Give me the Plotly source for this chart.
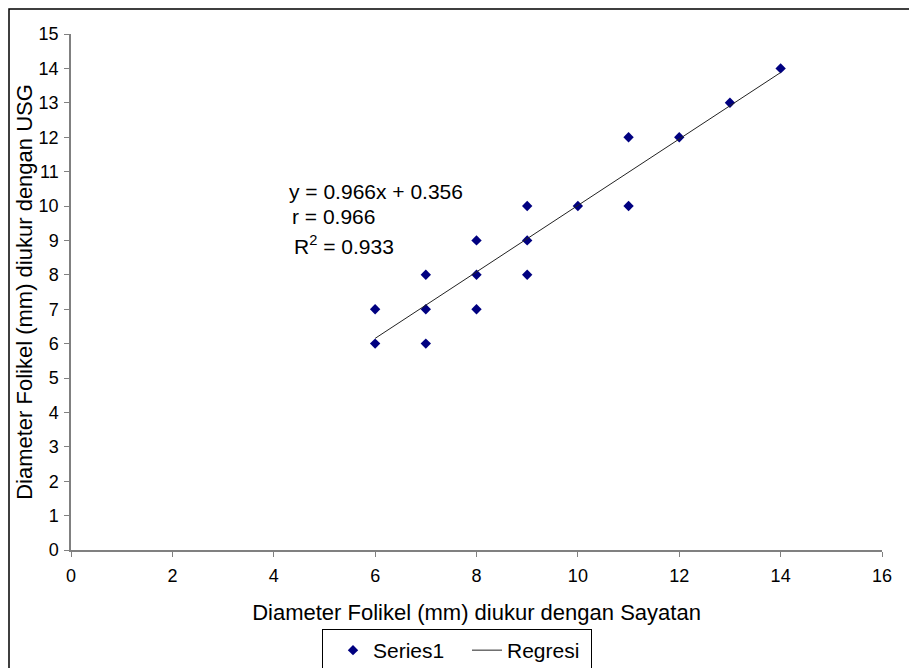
import plotly.graph_objects as go

x_sayatan = [6, 6, 7, 7, 7, 8, 8, 8, 9, 9, 9, 10, 11, 11, 12, 13, 14]
y_usg = [6, 7, 8, 7, 6, 9, 8, 7, 10, 9, 8, 10, 12, 10, 12, 13, 14]
slope = 0.966
intercept = 0.356
r_value = 0.966
r2_value = 0.933
x_ticks = [0, 2, 4, 6, 8, 10, 12, 14, 16]
y_ticks = list(range(0, 16))

x_line = [min(x_sayatan), max(x_sayatan)]
y_line = [slope * v + intercept for v in x_line]

FONT = "Liberation Sans, Arial, sans-serif"

fig = go.Figure()
fig.add_trace(go.Scatter(
    x=x_sayatan, y=y_usg, mode="markers", name="Series1",
    marker=dict(symbol="diamond", color="#000080", size=8, line=dict(width=0)),
))
fig.add_trace(go.Scatter(
    x=x_line, y=y_line, mode="lines", name="Regresi",
    line=dict(color="#222222", width=1),
))

axis_common = dict(
    showgrid=False, zeroline=False, showline=True, linecolor="#808080", linewidth=1.5,
    ticks="outside", ticklen=5, tickcolor="#808080", tickwidth=1,
    tickfont=dict(family=FONT, size=18, color="black"),
    title_font=dict(family=FONT, size=22, color="black"),
)
fig.update_xaxes(range=[0, 16], tickvals=x_ticks, title_text="Diameter Folikel (mm) diukur dengan Sayatan",
                 title_standoff=19, ticklabelstandoff=4, automargin=False, **axis_common)
fig.update_yaxes(range=[0, 15], tickvals=y_ticks, title_text="Diameter Folikel (mm) diukur dengan USG",
                 title_standoff=0, ticklabelstandoff=2, automargin=False, **axis_common)


def px2paper(px, py):
    # reference page pixels -> paper coords (plot area 71..882 x, 34..550 y on the page)
    return (px - 71) / 811, (550 - py) / 516


ann_font = dict(family=FONT, size=21, color="black")
for (px, py, txt) in [(287, 191, "y = %.3fx + %.3f" % (slope, intercept)),
                      (290, 217, "r = %.3f" % r_value),
                      (292, 245, "R<sup>2</sup> = %.3f" % r2_value)]:
    ax, ay = px2paper(px, py)
    fig.add_annotation(x=ax, y=ay, xref="paper", yref="paper", text=txt, showarrow=False,
                       xanchor="left", yanchor="middle", font=ann_font)

# outer chart border (page coords: left 8, top ~8, extends beyond bottom/right)
bx0, by0 = px2paper(9, 9)
bx1, by1 = px2paper(940, 700)
fig.add_shape(type="rect", xref="paper", yref="paper", x0=bx0, y0=by1, x1=bx1, y1=by0,
              line=dict(color="black", width=1.5), fillcolor="rgba(0,0,0,0)", layer="below")

lx, ly = px2paper(322, 629)
fig.update_layout(
    # page body has an 8px margin, so the figure is 8px smaller and margins shifted by 8
    width=909, height=660,
    margin=dict(l=63, r=35, t=26, b=118, autoexpand=False),
    paper_bgcolor="white", plot_bgcolor="white",
    font=dict(family=FONT, size=18, color="black"),
    showlegend=True,
    legend=dict(orientation="h", x=lx, y=ly, xanchor="left", yanchor="top",
                bordercolor="black", borderwidth=1, bgcolor="white",
                font=dict(family=FONT, size=21, color="black"),
                indentation=10, entrywidth=79, entrywidthmode="pixels",
                itemwidth=30, tracegroupgap=0),
)

fig.write_html("out.html")
